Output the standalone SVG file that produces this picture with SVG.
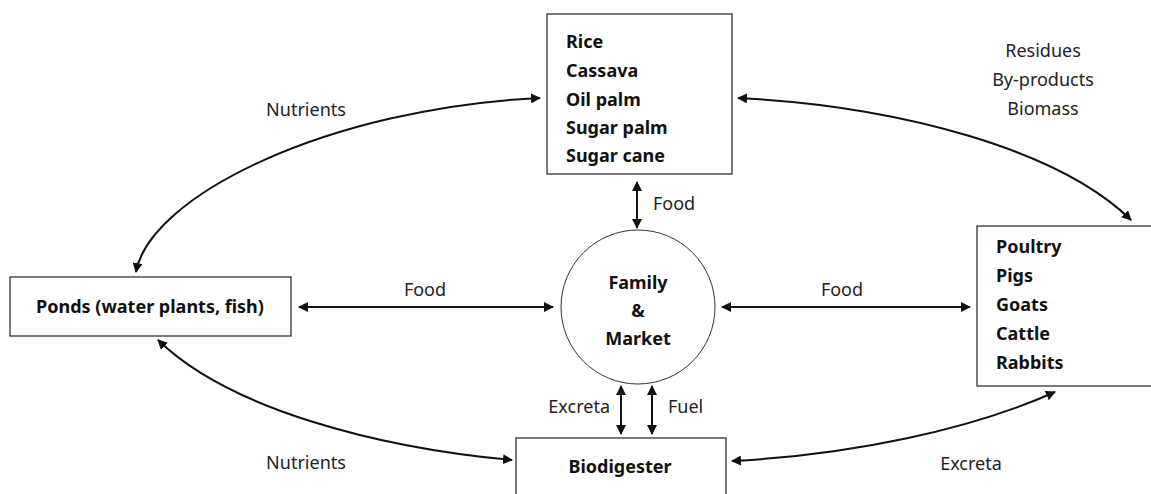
<svg xmlns="http://www.w3.org/2000/svg" width="1151" height="494" viewBox="0 0 1151 494">
<style>
.box{fill:#fff;stroke:#222;stroke-width:1.2}
.b{font-family:"Noto Sans","Open Sans",sans-serif;font-weight:bold;font-size:18px;fill:#111}
.l{font-family:"Noto Sans","Open Sans",sans-serif;font-size:18px;fill:#222}
.c{fill:none;stroke:#111;stroke-width:2;marker-start:url(#ah);marker-end:url(#ah)}
</style>
<defs>
<marker id="ah" viewBox="0 0 10 10" refX="9" refY="5" markerWidth="5" markerHeight="5" orient="auto-start-reverse" markerUnits="strokeWidth">
<path d="M0,0 L10,5 L0,10 z" fill="#111"/>
</marker>
</defs>
<rect width="1151" height="494" fill="#fff"/>
<g id="connectors">
<path class="c" d="M136,272 C150,195 330,108 540,98"/>
<path class="c" d="M738,98 C900,106 1060,150 1131,220"/>
<path class="c" d="M158,340 C230,410 380,448 512,460"/>
<path class="c" d="M732,461 C850,455 970,430 1055,392"/>
<path class="c" d="M299,307 L553,307"/>
<path class="c" d="M722,307 L970,307"/>
<path class="c" d="M637,182 L637,228"/>
<path class="c" d="M621,386 L621,434"/>
<path class="c" d="M652,386 L652,434"/>
<text class="l" x="306" y="116" text-anchor="middle">Nutrients</text>
<text class="l" x="1043" y="57" text-anchor="middle">Residues</text>
<text class="l" x="1043" y="86" text-anchor="middle">By-products</text>
<text class="l" x="1043" y="115" text-anchor="middle">Biomass</text>
<text class="l" x="425" y="296" text-anchor="middle">Food</text>
<text class="l" x="842" y="296" text-anchor="middle">Food</text>
<text class="l" x="653" y="210">Food</text>
<text class="l" x="610" y="413" text-anchor="end">Excreta</text>
<text class="l" x="668" y="413">Fuel</text>
<text class="l" x="306" y="469" text-anchor="middle">Nutrients</text>
<text class="l" x="971" y="470" text-anchor="middle">Excreta</text>
</g>
<g id="crops">
<rect class="box" x="547" y="14" width="185" height="160"/>
<text class="b" x="566" y="48">Rice</text>
<text class="b" x="566" y="77">Cassava</text>
<text class="b" x="566" y="106">Oil palm</text>
<text class="b" x="566" y="134">Sugar palm</text>
<text class="b" x="566" y="162">Sugar cane</text>
</g>
<g id="family">
<circle cx="638" cy="307" r="77" fill="#fff" stroke="#333" stroke-width="1"/>
<text class="b" x="638" y="289" text-anchor="middle">Family</text>
<text class="b" x="638" y="317" text-anchor="middle">&amp;</text>
<text class="b" x="638" y="345" text-anchor="middle">Market</text>
</g>
<g id="ponds">
<rect class="box" x="10" y="277" width="281" height="59"/>
<text class="b" x="150" y="313" text-anchor="middle">Ponds (water plants, fish)</text>
</g>
<g id="livestock">
<rect class="box" x="977" y="226" width="180" height="160"/>
<text class="b" x="996" y="253">Poultry</text>
<text class="b" x="996" y="282">Pigs</text>
<text class="b" x="996" y="311">Goats</text>
<text class="b" x="996" y="340">Cattle</text>
<text class="b" x="996" y="369">Rabbits</text>
</g>
<g id="biodigester">
<rect class="box" x="516" y="438" width="210" height="70"/>
<text class="b" x="620" y="473" text-anchor="middle">Biodigester</text>
</g>
</svg>
